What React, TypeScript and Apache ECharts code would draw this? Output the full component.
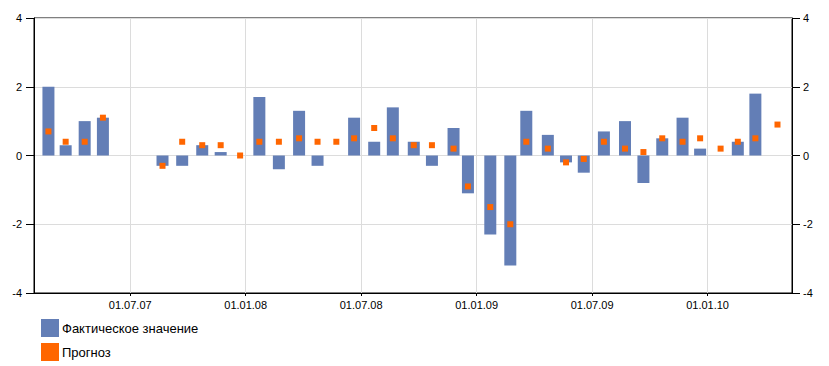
import React, { useEffect, useRef } from "react";
import * as echarts from "echarts";

// Observation dates (approx. release dates, one per month)
const dates = [
  "2007-02-22", "2007-03-21", "2007-04-20", "2007-05-19",
  "2007-08-22", "2007-09-22", "2007-10-24", "2007-11-22", "2007-12-23",
  "2008-01-23", "2008-02-22", "2008-03-25", "2008-04-23", "2008-05-23", "2008-06-20",
  "2008-07-22", "2008-08-21", "2008-09-23", "2008-10-22", "2008-11-25", "2008-12-18",
  "2009-01-23", "2009-02-22", "2009-03-19", "2009-04-22", "2009-05-21", "2009-06-18",
  "2009-07-20", "2009-08-23", "2009-09-21", "2009-10-21", "2009-11-22", "2009-12-20",
  "2010-01-22", "2010-02-17", "2010-03-16", "2010-04-20",
];

// Фактическое значение (null = no value)
const actual: (number | null)[] = [
  2.0, 0.3, 1.0, 1.1,
  -0.3, -0.3, 0.3, 0.1, null,
  1.7, -0.4, 1.3, -0.3, null, 1.1,
  0.4, 1.4, 0.4, -0.3, 0.8, -1.1,
  -2.3, -3.2, 1.3, 0.6, -0.2, -0.5,
  0.7, 1.0, -0.8, 0.5, 1.1, 0.2,
  null, 0.4, 1.8, null,
];

// Прогноз
const forecast: (number | null)[] = [
  0.7, 0.4, 0.4, 1.1,
  -0.3, 0.4, 0.3, 0.3, 0.0,
  0.4, 0.4, 0.5, 0.4, 0.4, 0.5,
  0.8, 0.5, 0.3, 0.3, 0.2, -0.9,
  -1.5, -2.0, 0.4, 0.2, -0.2, -0.1,
  0.4, 0.2, 0.1, 0.5, 0.4, 0.5,
  0.2, 0.4, 0.5, 0.9,
];

const xTickDates = ["2007-07-01", "2008-01-01", "2008-07-01", "2009-01-01", "2009-07-01", "2010-01-01"];
const xTickLabels = ["01.07.07", "01.01.08", "01.07.08", "01.01.09", "01.07.09", "01.01.10"];
const xRange = ["2007-02-01", "2010-05-13"];
const yMin = -4;
const yMax = 4;
const yStep = 2;

const seriesNames = ["Фактическое значение", "Прогноз"];

// convert a date to fractional months since 2007-01-01
function toMonths(s: string): number {
  const [y, mo, d] = s.split("-").map(Number);
  const dim = new Date(y, mo, 0).getDate();
  return (y - 2007) * 12 + (mo - 1) + (d - 1) / dim;
}

export default function App() {
  const ref = useRef<HTMLDivElement>(null);
  useEffect(() => {
    if (!ref.current) return;
    const chart = echarts.init(ref.current, undefined, { renderer: "svg" });
    const tickVals = xTickDates.map(toMonths);
    const labelFor = (v: number) => {
      let best = 0;
      for (let i = 0; i < tickVals.length; i++) {
        if (Math.abs(tickVals[i] - v) < Math.abs(tickVals[best] - v)) best = i;
      }
      return xTickLabels[best];
    };
    const font = "'Liberation Sans', Arial, sans-serif";
    const yAxisCommon = {
      type: "value" as const,
      min: yMin,
      max: yMax,
      interval: yStep,
      axisLine: { show: true, lineStyle: { color: "#000", width: 1 } },
      axisTick: { show: true, length: 8, lineStyle: { color: "#000" } },
      axisLabel: { color: "#000", fontSize: 11, fontFamily: font },
    };
    chart.setOption({
      animation: false,
      grid: {
        left: 34,
        right: 37,
        top: 18,
        bottom: 73,
        show: true,
        borderColor: "#000",
        borderWidth: 1,
        backgroundColor: "transparent",
      },
      legend: {
        orient: "vertical",
        left: 41,
        top: 319,
        padding: 0,
        itemWidth: 18,
        itemHeight: 18,
        itemGap: 6,
        icon: "rect",
        textStyle: { color: "#000", fontSize: 13, fontFamily: font, padding: [0, 0, 0, -2] },
        data: seriesNames,
      },
      xAxis: {
        type: "value",
        min: toMonths(xRange[0]),
        max: toMonths(xRange[1]),
        axisLine: { show: true, onZero: false, lineStyle: { color: "#000" } },
        axisTick: { show: true, length: 3, customValues: tickVals, lineStyle: { color: "#000" } },
        axisLabel: {
          customValues: tickVals,
          formatter: (v: number) => labelFor(v),
          color: "#000",
          fontSize: 11,
          fontFamily: font,
          margin: 6,
        },
        splitLine: { show: true, lineStyle: { color: "#dcdcdc" } },
      },
      yAxis: [
        {
          ...yAxisCommon,
          position: "left",
          axisLabel: { ...yAxisCommon.axisLabel, margin: 12 },
          splitLine: { show: true, lineStyle: { color: "#dcdcdc" } },
        },
        {
          ...yAxisCommon,
          position: "right",
          axisLabel: { ...yAxisCommon.axisLabel, margin: 11 },
          splitLine: { show: false },
        },
      ],
      series: [
        {
          name: seriesNames[0],
          type: "bar",
          barWidth: 12,
          itemStyle: { color: "#637eb6" },
          data: dates
            .map((d, i) => [toMonths(d), actual[i]])
            .filter((p) => p[1] !== null),
        },
        {
          name: seriesNames[1],
          type: "scatter",
          symbol: "rect",
          symbolSize: 6,
          itemStyle: { color: "#ff6600", opacity: 1 },
          z: 5,
          data: dates
            .map((d, i) => [toMonths(d), forecast[i]])
            .filter((p) => p[1] !== null),
        },
      ],
    });
    return () => chart.dispose();
  }, []);
  return <div ref={ref} style={{ width: 829, height: 366, position: "absolute", left: 0, top: 0 }} />;
}
